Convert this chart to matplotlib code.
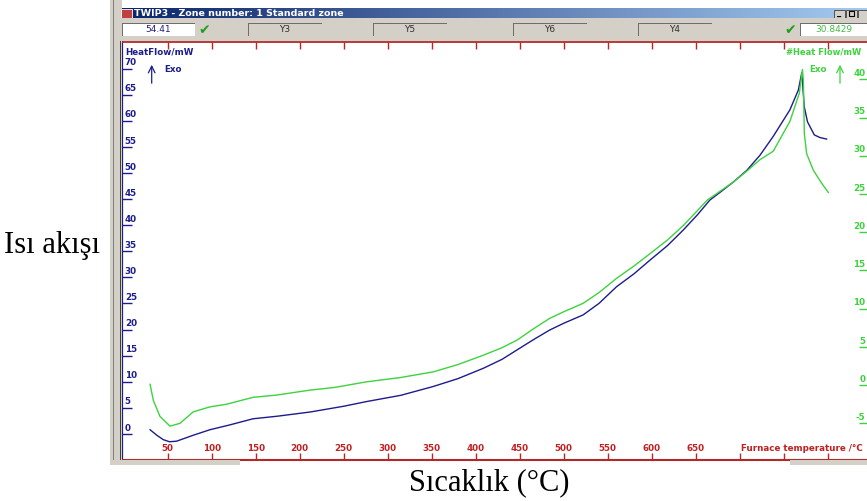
import numpy as np
import matplotlib
matplotlib.use("Agg")
import matplotlib.pyplot as plt
from matplotlib.patches import Rectangle
from matplotlib.transforms import blended_transform_factory

# Furnace temperature (°C) and heat flow (mW), blue trace on the left scale
temp_blue = [30, 38, 45, 52, 60, 70, 80, 98, 120, 147, 175, 212, 250, 276, 315,
             352, 380, 409, 430, 447, 466, 484, 500, 522, 540, 560, 580, 598,
             618, 636, 652, 666, 680, 693, 708, 723, 738, 757, 766.6, 770.5,
             773.3, 777, 784.7, 791, 798.7]
heat_blue = [0.8, -0.3, -1.1, -1.5, -1.4, -0.8, -0.2, 0.8, 1.7, 2.9, 3.4, 4.2,
             5.3, 6.2, 7.4, 9.1, 10.6, 12.6, 14.3, 16.1, 18.1, 19.9, 21.2, 22.8,
             25.0, 28.2, 30.7, 33.3, 36.1, 39.1, 42.0, 44.8, 46.6, 48.3, 50.5,
             53.4, 57.0, 62.1, 65.9, 69.2, 62.7, 59.8, 57.3, 56.8, 56.5]

# Second heat-flow trace (green) on the right scale
temp_green = [30, 33.7, 41.3, 52.6, 64, 79, 98, 117, 147, 174, 212, 240, 276,
              315, 352, 380, 409, 430, 447, 466, 484, 500, 522, 540, 560, 580,
              598, 618, 636, 650, 663, 678, 693, 708, 723, 738, 757, 767.7,
              771.2, 772.3, 773.4, 776, 783.7, 793.2, 800.7]
heat_green = [0.1, -2.0, -4.1, -5.37, -5.0, -3.5, -2.85, -2.5, -1.6, -1.3,
              -0.65, -0.3, 0.43, 1.0, 1.74, 2.7, 3.93, 4.9, 5.89, 7.4, 8.73,
              9.6, 10.7, 12.1, 13.97, 15.6, 17.2, 19.0, 20.9, 22.6, 24.2, 25.4,
              26.6, 28.0, 29.5, 30.6, 34.5, 38.2, 41.3, 39.9, 32.9, 30.3, 28.1,
              26.4, 25.2]

x_ticks = list(range(50, 801, 50))
x_labels = list(range(50, 651, 50))
left_ticks = list(range(0, 71, 5))
right_ticks = list(range(-5, 41, 5))
channel_boxes = ["Y3", "Y5", "Y6", "Y4"]

W, H = 867, 501
BLUE = "#1c1c8c"
GREEN = "#3ed23e"
RED = "#b42828"
GRAY = "#d4d0c8"

fig = plt.figure(figsize=(W / 100, H / 100), dpi=100)
fig.patch.set_facecolor("white")


def fbox(x0, y0, x1, y1):
    """Figure-fraction rectangle from pixel edges (y measured from top)."""
    return [x0 / W, 1 - y1 / H, (x1 - x0) / W, (y1 - y0) / H]


def rect(x0, y0, x1, y1, **kw):
    b = fbox(x0, y0, x1, y1)
    fig.add_artist(Rectangle((b[0], b[1]), b[2], b[3],
                             transform=fig.transFigure, **kw))


def ftext(x, y, s, **kw):
    fig.text(x / W, 1 - y / H, s, **kw)


# ---- window frame -------------------------------------------------------
rect(110, 0, 122, 465, facecolor=GRAY, edgecolor="none")
rect(113, 0, 114.5, 465, facecolor="#808080", edgecolor="none")
rect(119.5, 18, 121, 465, facecolor="#404040", edgecolor="none")
rect(110, 460, 240, 465, facecolor=GRAY, edgecolor="none")
rect(790, 460, 867, 465, facecolor=GRAY, edgecolor="none")

# title bar with gradient
tax = fig.add_axes(fbox(118, 8, 867, 18))
grad = np.linspace(0, 1, 256).reshape(1, -1)
c0 = np.array([10, 36, 106]) / 255
c1 = np.array([166, 202, 240]) / 255
img = c0[None, None, :] * (1 - grad[..., None]) + c1[None, None, :] * grad[..., None]
tax.imshow(img, aspect="auto", extent=[0, 1, 0, 1])
tax.set_axis_off()
rect(121, 9, 132, 17.5, facecolor="#c04040", edgecolor="white", linewidth=0.6)
ftext(134, 13.2, "TWIP3 - Zone number: 1 Standard zone", color="white",
      fontsize=6.8, fontweight="bold", va="center", ha="left")
for bx in (834, 846, 858):
    rect(bx, 9.5, bx + 11, 17.5, facecolor=GRAY, edgecolor="#404040",
         linewidth=0.6)
ftext(839.5, 13.5, "_", fontsize=6, fontweight="bold", ha="center", va="center")
rect(849, 11, 854, 16, facecolor="none", edgecolor="black", linewidth=0.8)

# toolbar
rect(114.5, 18, 867, 41, facecolor=GRAY, edgecolor="none")


def sunken(x0, x1, face):
    rect(x0, 23, x1, 36, facecolor=face, edgecolor="none")
    rect(x0, 23, x1, 24, facecolor="#6e6e6e", edgecolor="none")
    rect(x0, 23, x0 + 1, 36, facecolor="#6e6e6e", edgecolor="none")


sunken(122, 195, "white")
ftext(158, 29.5, "54.41", color="#202080", fontsize=6.5, ha="center", va="center")
ftext(204, 30, "\u2714", color="#1e9e1e", fontsize=10, ha="center", va="center")
for lab, x0 in zip(channel_boxes, (248, 373, 513, 638)):
    sunken(x0, x0 + 74, GRAY)
    ftext(x0 + 37, 29.5, lab, color="#303030", fontsize=6.5,
          ha="center", va="center")
ftext(790, 30, "\u2714", color="#1e9e1e", fontsize=10, ha="center", va="center")
sunken(800, 867, "white")
ftext(834, 29.5, "30.8429", color="#44bb44", fontsize=6.5, ha="center",
      va="center")

# ---- plot area -----------------------------------------------------------
ax = fig.add_axes(fbox(122, 42, 867, 460))
ax.set_xlim(-1.9, 844.6)
ax.set_ylim(-5.0, 75.1)
ax2 = ax.twinx()
ax2.set_ylim(-9.8, 44.9)

ax.plot(temp_blue, heat_blue, color=BLUE, lw=1.0, zorder=3)
ax2.plot(temp_green, heat_green, color=GREEN, lw=1.0, zorder=2)

for a in (ax, ax2):
    a.spines["right"].set_visible(False)
ax2.spines["left"].set_visible(False)
ax2.spines["top"].set_visible(False)
ax2.spines["bottom"].set_visible(False)
ax.spines["left"].set_color(BLUE)
ax.spines["left"].set_linewidth(1.6)
ax.spines["bottom"].set_color(RED)
ax.spines["bottom"].set_linewidth(1.5)
ax.spines["top"].set_color(RED)
ax.spines["top"].set_linewidth(1.3)

ax.set_xticks(x_ticks)
ax.tick_params(axis="x", direction="in", length=5, width=1, color=RED,
               top=True, labelbottom=False, labeltop=False)
ax.set_yticks(left_ticks)
ax.tick_params(axis="y", direction="in", length=7, width=1, color=BLUE,
               labelleft=False)
ax2.set_yticks(right_ticks)
ax2.tick_params(axis="y", direction="in", length=6, width=1, color=GREEN,
                right=True, labelright=False)

lab_kw = dict(fontsize=6.3, fontweight="bold")
xtr = blended_transform_factory(ax.transData, ax.transAxes)
for t in x_labels:
    ax.text(t, 0.027, str(t), transform=xtr, ha="center", va="center",
            color="#c02020", **lab_kw)
ax.text(0.9946, 0.027, "Furnace temperature /\u00b0C", transform=ax.transAxes,
        ha="right", va="center", color="#c02020", **lab_kw)

for v in left_ticks:
    ax.annotate(str(v), xy=(0, v), xycoords=("axes fraction", "data"),
                xytext=(2, 1), textcoords="offset points", ha="left",
                va="bottom", color=BLUE, **lab_kw)
for v in right_ticks:
    ax2.annotate(str(v), xy=(1, v), xycoords=("axes fraction", "data"),
                 xytext=(-1, 1), textcoords="offset points", ha="right",
                 va="bottom", color=GREEN, **lab_kw)

ftext(125, 52, "HeatFlow/mW", color=BLUE, ha="left", va="center", **lab_kw)
ftext(164, 70, "Exo", color=BLUE, ha="left", va="center", **lab_kw)
fig.add_artist(plt.Annotation("", xy=(151.7 / W, 1 - 62 / H),
                              xytext=(151.7 / W, 1 - 86 / H),
                              xycoords="figure fraction",
                              arrowprops=dict(arrowstyle="->", color=BLUE,
                                              lw=0.9, mutation_scale=12)))
ftext(786, 52, "#Heat Flow/mW", color=GREEN, ha="left", va="center",
      fontsize=6.0, fontweight="bold")
ftext(809, 69, "Exo", color=GREEN, ha="left", va="center", **lab_kw)
fig.add_artist(plt.Annotation("", xy=(840 / W, 1 - 62 / H),
                              xytext=(840 / W, 1 - 86 / H),
                              xycoords="figure fraction",
                              arrowprops=dict(arrowstyle="->", color=GREEN,
                                              lw=0.9, mutation_scale=12)))

# ---- outer axis titles ---------------------------------------------------
serif = dict(family=["Liberation Serif", "DejaVu Serif"], fontsize=22,
             color="black")
ftext(4, 245, "Isı akışı", ha="left", va="center", **serif)
ftext(489, 483, "Sıcaklık (°C)", ha="center", va="center", **serif)

fig.savefig("out.png", dpi=100)
